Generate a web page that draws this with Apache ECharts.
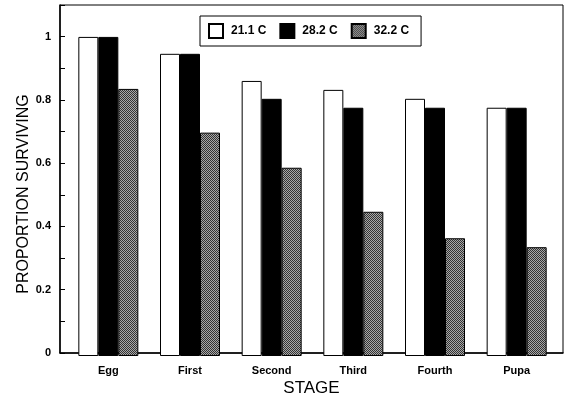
<!DOCTYPE html>
<html>
<head>
<meta charset="utf-8">
<script src="https://cdn.jsdelivr.net/npm/echarts@6/dist/echarts.min.js"></script>
<style>
  html, body { margin: 0; padding: 0; background: #fff; }
  #chart { width: 568px; height: 402px; }
</style>
</head>
<body>
<div id="chart"></div>
<script>
// stages on the x axis
const stages = ["Egg", "First", "Second", "Third", "Fourth", "Pupa"];

// proportion surviving per temperature
const temp21 = [1.0, 0.947, 0.862, 0.834, 0.806, 0.778];
const temp28 = [1.0, 0.947, 0.806, 0.778, 0.778, 0.778];
const temp32 = [0.837, 0.70, 0.59, 0.452, 0.369, 0.341];

const seriesNames = ["21.1 C", "28.2 C", "32.2 C"];

const FONT = "Liberation Sans, Arial, sans-serif";

// fine checker fill, like the stippled print
function checker() {
  const c = document.createElement("canvas");
  c.width = 2; c.height = 2;
  const g = c.getContext("2d");
  g.fillStyle = "#a8a8a8"; g.fillRect(0, 0, 2, 2);
  g.fillStyle = "#333";
  g.fillRect(0, 0, 1, 1);
  g.fillRect(1, 1, 1, 1);
  return c;
}
const PAT = { image: checker(), repeat: "repeat" };

const chart = echarts.init(document.getElementById("chart"), null, { renderer: "canvas" });

const yCommon = { type: "value", min: 0, max: 1.1, interval: 0.1 };

function bar(name, data, color) {
  return {
    name,
    type: "bar",
    xAxisIndex: 1,
    yAxisIndex: 1,
    data,
    barWidth: 20,
    barGap: "0%",
    itemStyle: { color, borderColor: "#000", borderWidth: 1 },
    emphasis: { disabled: true }
  };
}

chart.setOption({
  animation: false,
  backgroundColor: "#fff",
  textStyle: { fontFamily: FONT },
  grid: [
    // frame + y axis
    { left: 60, right: 5, top: 5, bottom: 46, show: true, borderColor: "#000", borderWidth: 1, backgroundColor: "transparent" },
    // bars, a little inset like the original
    { left: 67.5, right: 10.5, top: 5, bottom: 46 }
  ],
  legend: {
    data: seriesNames,
    left: 200,
    top: 16,
    orient: "horizontal",
    itemWidth: 14,
    itemHeight: 14,
    itemGap: 13,
    padding: [7, 12, 7, 8],
    borderColor: "#000",
    borderWidth: 1,
    backgroundColor: "#fff",
    icon: "rect",
    textStyle: { fontFamily: FONT, fontSize: 12, fontWeight: "bold", color: "#000", padding: [0, 0, 0, 3] }
  },
  xAxis: [
    {
      gridIndex: 0,
      type: "value",
      min: 0,
      max: 1,
      axisLine: { show: true, lineStyle: { color: "#000", width: 1.5 } },
      axisTick: { show: false },
      axisLabel: { show: false },
      splitLine: { show: false },
      name: "STAGE",
      nameLocation: "middle",
      nameMoveOverlap: false,
      nameGap: 27,
      nameTextStyle: { fontFamily: FONT, fontSize: 17, color: "#000" }
    },
    {
      gridIndex: 1,
      type: "category",
      data: stages,
      axisLine: { show: false },
      axisTick: { show: false },
      axisLabel: { fontFamily: FONT, fontSize: 11, fontWeight: "bold", color: "#000", margin: 9 },
      splitLine: { show: false }
    }
  ],
  yAxis: [
    Object.assign({}, yCommon, {
      gridIndex: 0,
      axisLine: { show: true, lineStyle: { color: "#000", width: 1.5 } },
      axisTick: { show: true, inside: true, length: 5, lineStyle: { color: "#000" } },
      axisLabel: {
        fontFamily: FONT, fontSize: 11, fontWeight: "bold", color: "#000", margin: 9,
        formatter: function (v) {
          const k = Math.round(v * 10);
          if (k % 2 !== 0 || k > 10) return "";
          if (k === 0) return "0";
          if (k === 10) return "1";
          return (k / 10).toFixed(1);
        }
      },
      splitLine: { show: false },
      name: "PROPORTION SURVIVING",
      nameLocation: "middle",
      nameMoveOverlap: false,
      nameRotate: 90,
      nameGap: 28,
      nameTextStyle: { fontFamily: FONT, fontSize: 16, color: "#000", padding: [0, 30, 0, 0] }
    }),
    Object.assign({}, yCommon, {
      gridIndex: 1,
      show: false,
      splitLine: { show: false }
    })
  ],
  series: [
    bar(seriesNames[0], temp21, "#fff"),
    bar(seriesNames[1], temp28, "#000"),
    bar(seriesNames[2], temp32, PAT)
  ]
});
</script>
</body>
</html>
